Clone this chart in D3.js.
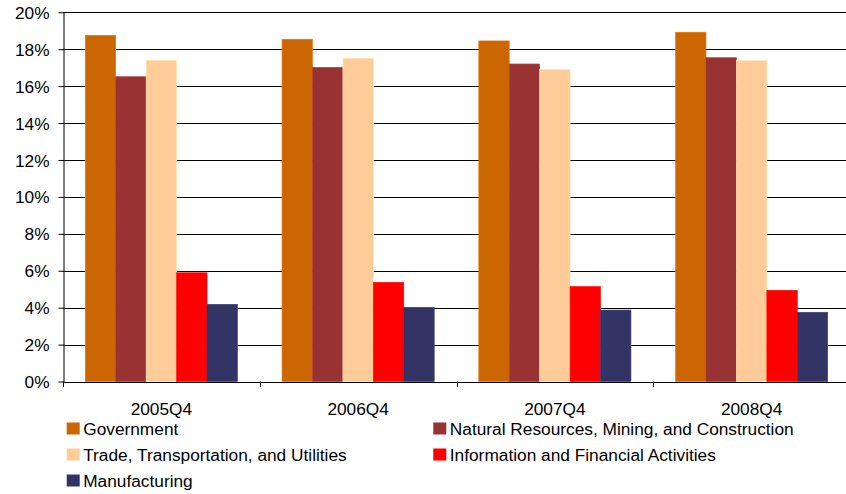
<!DOCTYPE html>
<html>
<head>
<meta charset="utf-8">
<script src="https://cdn.jsdelivr.net/npm/d3@7"></script>
<style>
  body { margin: 0; background: #fff; }
  text { font-family: "Liberation Sans", Arial, sans-serif; }
</style>
</head>
<body>
<script>
// data
var quarters = ['2005Q4', '2006Q4', '2007Q4', '2008Q4']
var sectors = ['Government', 'Natural Resources, Mining, and Construction',
    'Trade, Transportation, and Utilities', 'Information and Financial Activities', 'Manufacturing']
var sector_colors = ['#CC6600', '#993333', '#FFCC99', '#FF0000', '#333366']
var government = [18.75, 18.54, 18.45, 18.92]
var natural_resources = [16.51, 17.02, 17.20, 17.54]
var trade = [17.40, 17.51, 16.91, 17.38]
var info_finance = [5.89, 5.37, 5.14, 4.94]
var manufacturing = [4.18, 4.02, 3.87, 3.75]
var y_ticks = [0, 2, 4, 6, 8, 10, 12, 14, 16, 18, 20]

var series = [government, natural_resources, trade, info_finance, manufacturing]

var svgWidth = 846, svgHeight = 494
var plot_left = 63, plot_right = 850, plot_top = 12.3, plot_bottom = 381.5
var fs = '17.3px'

var svg = d3.select('body').append('svg').attr('width', svgWidth).attr('height', svgHeight)

var x0 = d3.scaleBand().domain(quarters).range([plot_left, plot_right]).paddingInner(0).paddingOuter(0)
var x1 = d3.scaleBand().domain(d3.range(sectors.length)).range([22.3, x0.bandwidth() - 22.3])
var y = d3.scaleLinear().domain([0, 20]).range([plot_bottom, plot_top])

// gridlines
svg.append('g').selectAll('line').data(y_ticks.filter(d => d > 0)).enter().append('line')
    .attr('x1', plot_left).attr('x2', svgWidth).attr('y1', d => Math.round(y(d)) + 0.5).attr('y2', d => Math.round(y(d)) + 0.5)
    .attr('stroke', '#000').attr('stroke-width', 1)

// bars
var groups = svg.append('g').selectAll('g').data(quarters).enter().append('g')
    .attr('transform', d => 'translate(' + x0(d) + ',0)')
groups.selectAll('rect').data((q, qi) => series.map((s, si) => ({si: si, v: s[qi]}))).enter().append('rect')
    .attr('x', d => x1(d.si)).attr('width', x1.bandwidth())
    .attr('y', d => y(d.v)).attr('height', d => y(0) - y(d.v))
    .attr('fill', d => sector_colors[d.si])
    .attr('stroke', d => d3.color(sector_colors[d.si]).brighter(0.4)).attr('stroke-width', 0.6)

// y axis
var yaxis = svg.append('g').attr('transform', 'translate(' + (plot_left + 0.5) + ',0)')
    .call(d3.axisLeft(y).tickValues(y_ticks).tickFormat(d => d + '%').tickSize(5).tickSizeOuter(0))
yaxis.select('.domain').attr('stroke', '#000')
yaxis.selectAll('line').attr('stroke', '#000')
yaxis.selectAll('text').attr('font-size', fs).attr('font-family', '"Liberation Sans", Arial, sans-serif')
    .attr('fill', '#000').attr('x', -14).attr('dy', '0.35em')

// x axis
svg.append('line').attr('x1', plot_left).attr('x2', svgWidth).attr('y1', Math.round(plot_bottom) + 0.5).attr('y2', Math.round(plot_bottom) + 0.5)
    .attr('stroke', '#000')
svg.append('g').selectAll('line').data(quarters).enter().append('line')
    .attr('x1', d => Math.round(x0(d)) + 0.5).attr('x2', d => Math.round(x0(d)) + 0.5)
    .attr('y1', plot_bottom).attr('y2', plot_bottom + 5.5).attr('stroke', '#000')
svg.append('g').selectAll('text').data(quarters).enter().append('text')
    .attr('x', d => x0(d) + x0.bandwidth() / 2).attr('y', 415)
    .attr('text-anchor', 'middle').attr('font-size', fs).text(d => d)

// legend, two columns
var legend = svg.append('g').selectAll('g').data(sectors).enter().append('g')
    .attr('transform', (d, i) => 'translate(' + (i % 2 == 0 ? 66.7 : 433.3) + ',' + (422.5 + Math.floor(i / 2) * 26) + ')')
legend.append('rect').attr('width', 13).attr('height', 12).attr('fill', (d, i) => sector_colors[i])
legend.append('text').attr('x', 16.5).attr('y', 12).attr('font-size', fs).text(d => d)
</script>
</body>
</html>
